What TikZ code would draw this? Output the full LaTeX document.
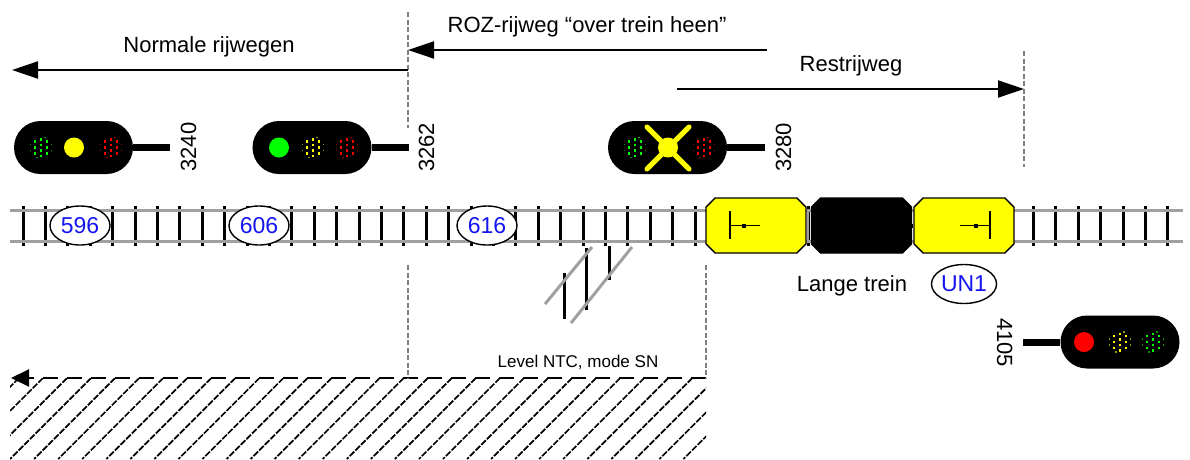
\documentclass[tikz,border=0pt]{standalone}
\usepackage{fontspec}
\setmainfont{Liberation Sans}
\usetikzlibrary{arrows.meta,shapes.geometric,shapes.misc}
\definecolor{RailGrey}{RGB}{160,160,160}
\definecolor{DashGrey}{RGB}{128,128,128}
\definecolor{LampGreen}{RGB}{0,255,0}
\definecolor{LampYellow}{RGB}{255,255,0}
\definecolor{LampRed}{RGB}{255,0,0}
\definecolor{BlockBlue}{RGB}{20,20,240}
\tikzset{
  rail/.style={line width=3pt,draw=RailGrey},
  sleeper/.style={line width=3pt,draw=black},
  route/.style={-{Triangle[length=26pt,width=17pt]},line width=2pt,draw=black},
  limit/.style={line width=1.4pt,draw=DashGrey,dash pattern=on 5pt off 2.5pt},
  txt/.style={inner sep=0pt,anchor=base,text=black,font=\fontsize{22}{24}\selectfont},
  smalltxt/.style={inner sep=0pt,anchor=base,text=black,font=\fontsize{17}{19}\selectfont},
  sigbody/.style={rounded rectangle,fill=black,draw=none,minimum width=119pt,minimum height=53pt,inner sep=0pt},
  sigmast/.style={line width=7pt,draw=black},
  lamp/.style={circle,draw=none,minimum size=20pt,inner sep=0pt},
  block/.style={ellipse,draw=black,line width=1.4pt,fill=white,text=BlockBlue,font=\fontsize{23}{25}\selectfont,minimum width=60pt,minimum height=39pt,inner sep=0pt},
  car/.style={chamfered rectangle,chamfered rectangle corners=chamfer all,chamfered rectangle xsep=4.6pt,chamfered rectangle ysep=4.6pt,draw=black,line width=1.4pt,text width=90.8pt,text height=45.8pt,inner sep=0pt},
  crossarm/.style={line width=5pt,draw=LampYellow,line cap=round},
  dimlamp/.pic={
    \foreach \dx/\dy in {0/-8,0/-2.5,0/3,0/8.5,-6/-6,-6/0,-6/6,6/-6,6/0,6/6}
      \fill[#1] (\dx-1.3,\dy-1.3) rectangle (\dx+1.3,\dy+1.3);
    \foreach \dx/\dy in {-10.5/-3,-10.5/3,10.5/-3,10.5/3,-4/10,4/-10}
      \fill[#1!60!black] (\dx-.8,\dy-.8) rectangle (\dx+.8,\dy+.8);
  }
}
\begin{document}
\begin{tikzpicture}[x=1pt,y=-1pt]
  \useasboundingbox (0,0) rectangle (1190,459);
  % hatched area
  \begin{scope}
    \clip (10,378) rectangle (706,459);
    \foreach \k in {-1,...,30}
      \draw[line width=1.7pt,dash pattern=on 6.5pt off 1.5pt] ({43+24.05*\k},378) -- ({43+24.05*\k-81},459);
  \end{scope}
  \coordinate (hatchR) at (706,378);
  \coordinate (hatchL) at (11,378);
  \draw[line width=2pt,dash pattern=on 15pt off 9pt] (hatchR) -- (30,378);
  \draw[-{Triangle[length=18pt,width=17pt]},line width=2pt] (30,378) -- (hatchL);
  % limits
  \coordinate (limA1) at (408,12);
  \coordinate (limA2) at (408,128);
  \coordinate (limA3) at (408,265);
  \coordinate (limA4) at (408,378);
  \coordinate (limB1) at (706,265);
  \coordinate (limB2) at (706,378);
  \coordinate (limC1) at (1024,51);
  \coordinate (limC2) at (1024,167);
  \draw[limit] (limA1) -- (limA2);
  \draw[limit] (limA3) -- (limA4);
  \draw[limit] (limB1) -- (limB2);
  \draw[limit] (limC1) -- (limC2);
  % routes
  \coordinate (normA) at (408,70);
  \coordinate (normB) at (12,70);
  \coordinate (rozA) at (767,50);
  \coordinate (rozB) at (408,50);
  \coordinate (restA) at (677,89);
  \coordinate (restB) at (1024,89);
  \draw[route] (normA) -- (normB);
  \draw[route] (rozA) -- (rozB);
  \draw[route] (restA) -- (restB);
  \node[txt] (normtxt) at (209,52) {Normale rijwegen};
  \node[txt] (roztxt) at (587,32) {ROZ-rijweg “over trein heen”};
  \node[txt] (resttxt) at (851,71) {Restrijweg};
  % track
  \foreach \k in {0,...,30}
    \draw[sleeper] ({23+22.4*\k},206) -- ({23+22.4*\k},246);
  \foreach \sx in {808,1033,1055,1078,1100,1123,1145,1167}
    \draw[sleeper] (\sx,206) -- (\sx,246);
  \coordinate (railAl) at (10,210);
  \coordinate (railAr) at (1183,210);
  \coordinate (railBl) at (10,241);
  \coordinate (railBr) at (1183,241);
  \draw[rail] (railAl) -- (railAr);
  \draw[rail] (railBl) -- (railBr);
  \draw[rail,line width=1.5pt] (808,211) -- (808,240);
  % side track
  \foreach \sx/\sa/\sb in {564/273/319,586/248/310,609/246/280}
    \draw[sleeper] (\sx,\sa) -- (\sx,\sb);
  \draw[rail] (592,247) -- (545,304);
  \draw[rail] (632,247) -- (571,323);
  \node[smalltxt] (leveltxt) at (578,367) {Level NTC, mode SN};
  % blocks
  \node[block] (b596) at (80,225.5) {596};
  \node[block] (b606) at (259,225.5) {606};
  \node[block] (b616) at (487,225.5) {616};
  % train
  \node[car,fill=LampYellow] (car1) at (756,225.5) {};
  \node[car,fill=black] (car2) at (861.5,225.5) {};
  \node[car,fill=LampYellow] (car3) at (964,225.5) {};
  \draw[line width=4pt] (car2.east) -- (car3.west);
  \coordinate (headA) at (730,225.5);
  \coordinate (stemA) at (760,225.5);
  \coordinate (headB) at (990,225.5);
  \coordinate (stemB) at (960,225.5);
  \draw[line width=1.4pt] (730,211) -- (730,239);
  \draw[line width=1pt] (headA) -- (stemA);
  \fill (742,223.5) rectangle (746,227.5);
  \draw[line width=1.4pt] (990,211) -- (990,239);
  \draw[line width=1pt] (headB) -- (stemB);
  \fill (974,223.5) rectangle (978,227.5);
  \node[txt] (langetxt) at (852,291) {Lange trein};
  \node[block] (un1) at (964,284) {UN1};
  % signals
  \node[sigbody] (sig3240) at (73.5,147.5) {};
  \coordinate (mast3240) at (170,147.5);
  \draw[sigmast] (sig3240.east) -- (mast3240);
  \pic at (41,147.5) {dimlamp=LampGreen};
  \node[lamp,fill=LampYellow] (l3240) at (74,147.5) {};
  \pic at (111,147.5) {dimlamp=LampRed};
  \node[txt,rotate=90] (n3240) at (196,147) {3240};
  \node[sigbody] (sig3262) at (312,147.5) {};
  \coordinate (mast3262) at (409,147.5);
  \draw[sigmast] (sig3262.east) -- (mast3262);
  \node[lamp,fill=LampGreen] (l3262) at (279,147.5) {};
  \pic at (313,147.5) {dimlamp=LampYellow};
  \pic at (347,147.5) {dimlamp=LampRed};
  \node[txt,rotate=90] (n3262) at (434,147.5) {3262};
  \node[sigbody] (sig3280) at (667.5,147.5) {};
  \coordinate (mast3280) at (765,147.5);
  \draw[sigmast] (sig3280.east) -- (mast3280);
  \pic at (635,147.5) {dimlamp=LampGreen};
  \pic at (704,147.5) {dimlamp=LampRed};
  \node[lamp,fill=LampYellow] (l3280) at (668,147.5) {};
  \coordinate (armA) at (647,127);
  \coordinate (armB) at (689,169);
  \coordinate (armC) at (689,127);
  \coordinate (armD) at (647,169);
  \draw[crossarm] (armA) -- (armB);
  \draw[crossarm] (armC) -- (armD);
  \node[txt,rotate=90] (n3280) at (791,147.5) {3280};
  \node[sigbody] (sig4105) at (1120,342) {};
  \coordinate (mast4105) at (1023,342);
  \draw[sigmast] (sig4105.west) -- (mast4105);
  \node[lamp,fill=LampRed] (l4105) at (1084,342) {};
  \pic at (1120,342) {dimlamp=LampYellow};
  \pic at (1153,342) {dimlamp=LampGreen};
  \node[txt,rotate=-90] (n4105) at (997,342.5) {4105};
\end{tikzpicture}
\end{document}
